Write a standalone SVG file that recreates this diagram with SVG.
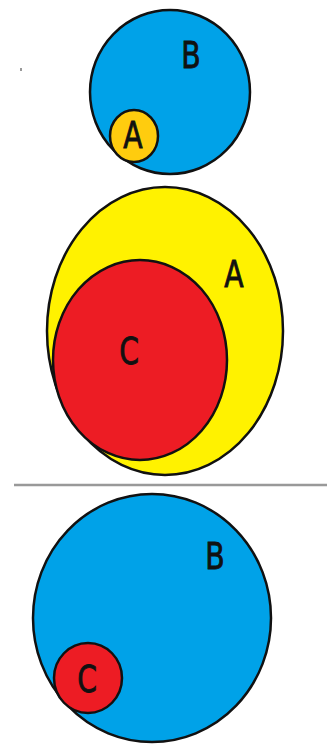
<svg xmlns="http://www.w3.org/2000/svg" width="327" height="744" viewBox="0 0 327 744">
<style>
.c{stroke:#111;stroke-width:2.5}
.blue{fill:#00A2E8}
.yel{fill:#FFF200}
.gold{fill:#FFCC0E}
.red{fill:#ED1C24}
.t{font-family:"DejaVu Sans Condensed","DejaVu Sans",sans-serif;font-size:37px;fill:#111;text-anchor:middle;stroke:#111;stroke-width:0.8}
</style>
<rect width="327" height="744" fill="#fff"/>
<rect x="20" y="68" width="2" height="3" fill="#999"/>
<g id="top-B">
<ellipse class="c blue" cx="170" cy="92" rx="80" ry="82"/>
<text class="t" transform="translate(191 68) scale(0.85 1)">B</text>
</g>
<g id="top-A">
<ellipse class="c gold" cx="134" cy="136" rx="24" ry="26"/>
<text class="t" transform="translate(133 148) scale(0.85 1)">A</text>
</g>
<g id="mid-A">
<ellipse class="c yel" cx="165" cy="331" rx="118" ry="144"/>
<text class="t" transform="translate(234 287) scale(0.85 1)">A</text>
</g>
<g id="mid-C">
<ellipse class="c red" cx="140" cy="360" rx="87" ry="100"/>
<text class="t" transform="translate(129 364) scale(0.85 1)">C</text>
</g>
<line x1="14" y1="485" x2="327" y2="485" stroke="#999" stroke-width="2.5"/>
<g id="bot-B">
<ellipse class="c blue" cx="152" cy="618" rx="119" ry="124"/>
<text class="t" transform="translate(215 569) scale(0.85 1)">B</text>
</g>
<g id="bot-C">
<ellipse class="c red" cx="88" cy="678" rx="34" ry="35"/>
<text class="t" transform="translate(87 692) scale(0.85 1)">C</text>
</g>
</svg>
